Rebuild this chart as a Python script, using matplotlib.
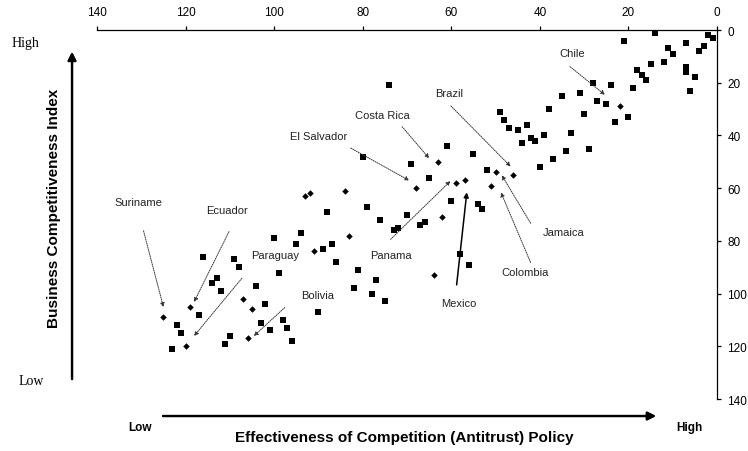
import matplotlib
matplotlib.use("Agg")
import matplotlib.pyplot as plt

# rank on competition policy (x) vs rank on business competitiveness (y)
square_x = [21, 14, 7, 2, 1, 3, 4, 11, 10, 12, 15, 18, 17, 16, 19, 7, 7, 5, 6,
            24, 28, 31, 35, 38, 27, 25, 30, 23, 20, 49, 48, 47, 45, 43, 44, 42,
            41, 39, 33, 34, 29, 37, 40, 52, 74, 80, 61, 69, 55, 65, 88, 79, 76,
            70, 73, 72, 67, 66, 60, 54, 53, 89, 87, 86, 81, 77, 82, 78, 75, 90,
            58, 56, 94, 100, 95, 116, 109, 108, 113, 114, 112, 99, 104, 102,
            117, 122, 121, 123, 110, 111, 103, 101, 98, 97, 96]
square_y = [4, 1, 5, 2, 3, 6, 8, 7, 9, 12, 13, 15, 17, 19, 22, 14, 16, 18, 23,
            21, 20, 24, 25, 30, 27, 28, 32, 35, 33, 31, 34, 37, 38, 36, 43, 41,
            42, 40, 39, 46, 45, 49, 52, 53, 21, 48, 44, 51, 47, 56, 69, 67, 72,
            70, 76, 75, 74, 73, 65, 66, 68, 83, 81, 88, 91, 95, 98, 100, 103, 107,
            85, 89, 77, 79, 81, 86, 87, 90, 94, 96, 99, 92, 97, 104,
            108, 112, 115, 121, 116, 119, 111, 114, 110, 113, 118]

diamond_x = [22, 46, 50, 51, 63, 68, 59, 57, 92, 93, 84, 62, 83, 91, 64, 107,
             105, 119, 125, 120, 106]
diamond_y = [29, 55, 54, 59, 50, 60, 58, 57, 62, 63, 61, 71, 78, 84, 93, 102,
             106, 105, 109, 120, 117]

# country labels: name, label position, arrow start, arrow tip (data units)
countries = ["Chile", "Brazil", "Costa Rica", "El Salvador", "Panama", "Mexico",
             "Jamaica", "Colombia", "Suriname", "Ecuador", "Paraguay", "Bolivia"]
label_xy = [(32.7, 8.9), (60.4, 23.9), (75.6, 32.3), (90.0, 40.4), (73.7, 85.5),
            (58.4, 103.6), (34.7, 76.8), (43.4, 91.8), (130.7, 65.4),
            (110.6, 68.2), (99.8, 85.5), (90.1, 100.6)]
arrow_from = [(33.2, 13.9), (60.1, 28.8), (71.1, 36.7), (82.7, 44.8), (73.7, 79.4),
              (58.8, 96.7), (42.1, 73.3), (42.1, 88.2), (129.5, 76.2),
              (110.2, 76.5), (107.3, 94.2), (97.6, 105.3)]
arrow_to = [(25.3, 24.6), (46.6, 51.8), (65.0, 48.7), (69.5, 57.1), (60.2, 57.3),
            (56.5, 61.6), (48.6, 55.1), (48.8, 61.6), (125.0, 105.1),
            (118.1, 103.2), (118.1, 116.1), (104.6, 116.1)]

ticks = [140, 120, 100, 80, 60, 40, 20, 0]

plt.rcParams['font.family'] = ['Liberation Sans', 'DejaVu Sans']

fig = plt.figure(figsize=(7.48, 4.52), dpi=100)
ax = fig.add_axes([0.1297, 0.115, 0.8289, 0.8164])

ax.scatter(square_x, square_y, marker='s', s=18, color='black', linewidths=0, zorder=3)
ax.scatter(diamond_x, diamond_y, marker='D', s=11, color='black', linewidths=0, zorder=3)

for name, txy, a0, a1 in zip(countries, label_xy, arrow_from, arrow_to):
    ax.text(txy[0], txy[1], name, fontsize=8, ha='center', va='center', color='#222222')
    if name == "Mexico":
        props = dict(arrowstyle='-|>', color='black', lw=1.1, mutation_scale=7,
                     shrinkA=0, shrinkB=0)
    else:
        props = dict(arrowstyle='-|>', color='#333333', lw=0.7, linestyle=(0, (1, 1.2)),
                     mutation_scale=6, shrinkA=0, shrinkB=0)
    ax.annotate('', xy=a1, xytext=a0, arrowprops=props)

ax.set_xlim(140, 0)
ax.set_ylim(140, 0)
ax.set_xticks(ticks)
ax.set_yticks(ticks)
ax.xaxis.tick_top()
ax.yaxis.tick_right()
for side in ['left', 'bottom']:
    ax.spines[side].set_visible(False)
for side in ['top', 'right']:
    ax.spines[side].set_linewidth(0.9)
ax.tick_params(axis='x', direction='out', length=3, width=0.9, labelsize=8.5, pad=6)
ax.tick_params(axis='y', direction='out', length=3, width=0.9, labelsize=8.5, pad=4.5)

# outer axis descriptions and arrows
fig.text(0.0334, 0.9027, "High", family='Liberation Serif', fontsize=10, ha='center', va='center')
fig.text(0.042, 0.1555, "Low", family='Liberation Serif', fontsize=10, ha='center', va='center')
fig.text(0.072, 0.54, "Business Competitiveness Index", fontsize=11, fontweight='bold',
         rotation=90, ha='center', va='center')
fig.text(0.1867, 0.0537, "Low", fontsize=8.5, fontweight='bold', ha='center', va='center')
fig.text(0.921, 0.0537, "High", fontsize=8.5, fontweight='bold', ha='center', va='center')
fig.text(0.5408, 0.0303, "Effectiveness of Competition (Antitrust) Policy", fontsize=11,
         fontweight='bold', ha='center', va='center')

big = dict(arrowstyle='-|>', color='black', lw=1.6, mutation_scale=12, shrinkA=0, shrinkB=0)
fig.add_artist(plt.annotate('', xy=(0.0963, 0.883), xytext=(0.0963, 0.159),
                            xycoords='figure fraction', textcoords='figure fraction',
                            arrowprops=big))
fig.add_artist(plt.annotate('', xy=(0.877, 0.0774), xytext=(0.218, 0.0774),
                            xycoords='figure fraction', textcoords='figure fraction',
                            arrowprops=big))

fig.savefig("out.png", dpi=100)
